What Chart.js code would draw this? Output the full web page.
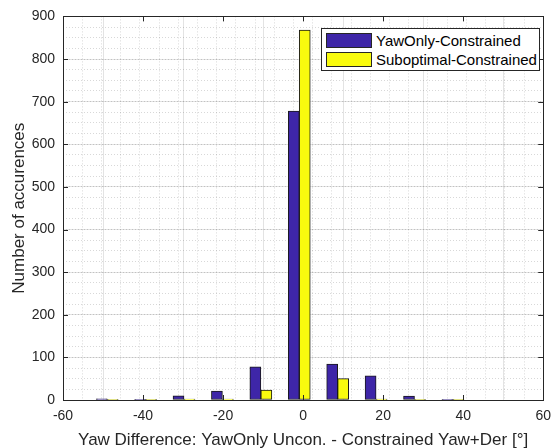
<!DOCTYPE html>
<html>
<head>
<meta charset="utf-8">
<script src="https://cdn.jsdelivr.net/npm/chart.js@4"></script>
<style>
  body { margin: 0; background: #fff; }
  #wrap { position: relative; width: 559px; height: 448px; }
  #legend {
    position: absolute; left: 321px; top: 28px; width: 217px; height: 41px;
    border: 1px solid #262626; background: #fff;
    font: 15px "Liberation Sans", Arial, sans-serif; color: #000;
  }
  .item { position: absolute; left: 4px; height: 15px; line-height: 15px; white-space: nowrap; }
  .sw { display: inline-block; width: 44px; height: 13px; border: 1px solid #262626; vertical-align: top; margin-right: 4px; }
</style>
</head>
<body>
<div id="wrap">
  <canvas id="c" width="559" height="448"></canvas>
  <div id="legend"></div>
</div>
<script>
// histogram bins (bar group centres) and counts
const binCenters = [-51, -41, -31, -21, -11, -1, 9, 19, 29, 39];
const yawOnly    = [3, 1, 10, 21, 78, 678, 84, 57, 9, 1];
const suboptimal = [1, 1, 2, 2, 23, 868, 50, 2, 1, 1];
const seriesNames = ['YawOnly-Constrained', 'Suboptimal-Constrained'];
const seriesColors = ['#3e26a8', '#f9fb0e'];

const FONT = '"Liberation Sans", Arial, sans-serif';
const TXT = '#262626';

const toPoints = vals => binCenters.map((x, i) => ({ x: x, y: vals[i] }));

// box round the axes plus inward tick marks, like matlab
const framePlugin = {
  id: 'frame',
  afterDatasetsDraw(chart) {
    const a = chart.chartArea, ctx = chart.ctx;
    const xs = chart.scales.x, ys = chart.scales.y;
    ctx.save();
    ctx.strokeStyle = TXT;
    ctx.lineWidth = 1;
    ctx.beginPath();
    xs.ticks.forEach(t => {
      const px = Math.round(xs.getPixelForValue(t.value)) + 0.5;
      ctx.moveTo(px, a.bottom); ctx.lineTo(px, a.bottom - 5);
      ctx.moveTo(px, a.top); ctx.lineTo(px, a.top + 5);
    });
    ys.ticks.forEach(t => {
      const py = Math.round(ys.getPixelForValue(t.value)) + 0.5;
      ctx.moveTo(a.left, py); ctx.lineTo(a.left + 5, py);
      ctx.moveTo(a.right, py); ctx.lineTo(a.right - 5, py);
    });
    ctx.stroke();
    ctx.strokeRect(Math.round(a.left) + 0.5, Math.round(a.top) + 0.5,
      Math.round(a.right - a.left), Math.round(a.bottom - a.top));
    ctx.restore();
  }
};

const minorGrid = { color: 'rgba(38,38,38,0.18)', drawTicks: false };
const majorGrid = { color: 'rgba(38,38,38,0.13)', drawTicks: false };

new Chart(document.getElementById('c'), {
  type: 'bar',
  data: {
    datasets: [
      { label: seriesNames[0], data: toPoints(yawOnly), backgroundColor: seriesColors[0],
        borderColor: '#1a1a1a', borderWidth: 1, borderSkipped: false },
      { label: seriesNames[1], data: toPoints(suboptimal), backgroundColor: seriesColors[1],
        borderColor: '#1a1a1a', borderWidth: 1, borderSkipped: false }
    ]
  },
  options: {
    responsive: false,
    animation: false,
    layout: { padding: { top: 16, right: 13, left: 0, bottom: 0 } },
    barThickness: 11,
    plugins: { legend: { display: false }, tooltip: { enabled: false } },
    scales: {
      xm: {
        type: 'linear', position: 'bottom', min: -60, max: 60,
        ticks: { display: false, stepSize: 5 },
        grid: minorGrid, border: { display: false, dash: [1, 2] },
        afterFit: s => { s.height = 0; }
      },
      ym: {
        type: 'linear', position: 'left', min: 0, max: 900,
        ticks: { display: false, stepSize: 25 },
        grid: minorGrid, border: { display: false, dash: [1, 2] },
        afterFit: s => { s.width = 0; }
      },
      x: {
        type: 'linear', position: 'bottom', min: -60, max: 60, offset: false,
        ticks: { stepSize: 20, color: TXT, font: { family: FONT, size: 14 }, padding: 8, maxRotation: 0 },
        grid: majorGrid, border: { display: false },
        title: { display: true, text: 'Yaw Difference: YawOnly Uncon. - Constrained Yaw+Der [°]',
          color: TXT, font: { family: FONT, size: 17 }, padding: { top: 0, bottom: -3 } },
        afterFit: s => { s.height = 48; }
      },
      y: {
        type: 'linear', position: 'left', min: 0, max: 900,
        ticks: { stepSize: 100, color: TXT, font: { family: FONT, size: 14 }, padding: 8 },
        grid: majorGrid, border: { display: false },
        title: { display: true, text: 'Number of accurences',
          color: TXT, font: { family: FONT, size: 17 }, padding: { top: 9, bottom: 0 } },
        afterFit: s => { s.width = 63; }
      }
    }
  },
  plugins: [framePlugin]
});

// legend box inside the axes
const leg = document.getElementById('legend');
seriesNames.forEach((name, i) => {
  const d = document.createElement('div');
  d.className = 'item';
  d.style.top = (4 + i * 19) + 'px';
  d.innerHTML = '<span class="sw" style="background:' + seriesColors[i] + '"></span>';
  d.appendChild(document.createTextNode(name));
  leg.appendChild(d);
});
</script>
</body>
</html>
